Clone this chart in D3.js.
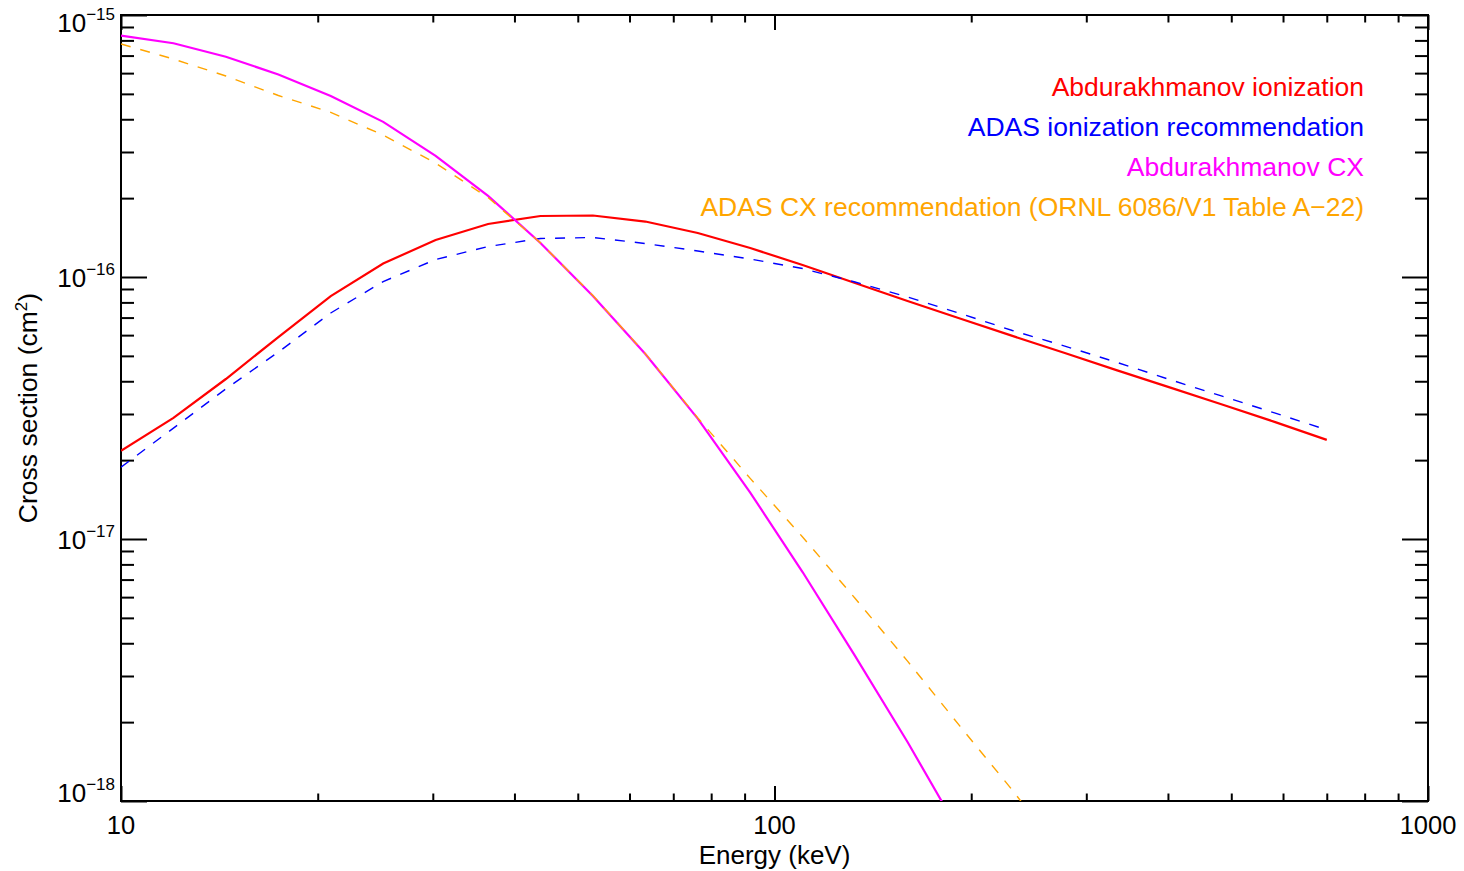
<!DOCTYPE html>
<html>
<head>
<meta charset="utf-8">
<script src="https://cdn.jsdelivr.net/npm/d3@7"></script>
<style>
  body { margin: 0; background: #fff; }
  svg { display: block; }
  text { font-family: "Liberation Sans", Arial, Helvetica, sans-serif; }
</style>
</head>
<body>
<svg id="chart" width="1464" height="871"></svg>
<script>
// energies in keV (shared grid of all four curves)
const energy = [10, 12.03, 14.47, 17.41, 20.94, 25.19, 30.30, 36.45, 43.84, 52.74, 63.44, 76.31,
    91.80, 110.4, 132.8, 159.8, 192.2, 231.2, 278.1, 334.5, 402.4, 484.1, 582.3, 700];

// cross sections in cm^2
const abdIon = [2.17e-17, 2.90e-17, 4.08e-17, 5.90e-17, 8.46e-17, 1.126e-16, 1.384e-16, 1.593e-16,
    1.709e-16, 1.717e-16, 1.628e-16, 1.472e-16, 1.290e-16, 1.111e-16, 9.49e-17, 8.10e-17,
    6.94e-17, 5.96e-17, 5.13e-17, 4.40e-17, 3.79e-17, 3.26e-17, 2.80e-17, 2.39e-17];
const adasIon = [1.88e-17, 2.65e-17, 3.74e-17, 5.17e-17, 7.29e-17, 9.61e-17, 1.166e-16, 1.307e-16,
    1.403e-16, 1.415e-16, 1.342e-16, 1.257e-16, 1.171e-16, 1.077e-16, 9.57e-17, 8.39e-17,
    7.26e-17, 6.25e-17, 5.45e-17, 4.72e-17, 4.06e-17, 3.51e-17, 3.03e-17, 2.61e-17];
const abdCx = [8.34e-16, 7.80e-16, 6.93e-16, 5.93e-16, 4.91e-16, 3.91e-16, 2.90e-16, 2.04e-16,
    1.349e-16, 8.46e-17, 5.08e-17, 2.88e-17, 1.504e-17, 7.48e-18, 3.58e-18, 1.68e-18,
    7.55e-19, 3.1e-19];
const adasCx = [7.75e-16, 6.79e-16, 5.85e-16, 4.93e-16, 4.25e-16, 3.48e-16, 2.72e-16, 2.01e-16,
    1.35e-16, 8.5e-17, 5.1e-17, 2.9e-17, 1.704e-17, 1.018e-17, 5.94e-18, 3.42e-18,
    1.93e-18, 1.10e-18, 6.06e-19];

const xTicks = [10, 100, 1000];
const yTicks = [1e-15, 1e-16, 1e-17, 1e-18];
const yExp = ["\u221215", "\u221216", "\u221217", "\u221218"];

const series = [
    { name: "Abdurakhmanov ionization", values: abdIon, color: "#ff0000", dash: null, width: 2.2 },
    { name: "ADAS ionization recommendation", values: adasIon, color: "#0000ff", dash: "10,10", width: 1.4 },
    { name: "Abdurakhmanov CX", values: abdCx, color: "#ff00ff", dash: null, width: 2.2 },
    { name: "ADAS CX recommendation (ORNL 6086/V1 Table A\u221222)", values: adasCx, color: "#ffa500", dash: "10,10", width: 1.4 }
];

const svg = d3.select("#chart");
const pLeft = 121, pRight = 1428, pTop = 15, pBottom = 801;

const x = d3.scaleLog().domain([10, 1000]).range([pLeft, pRight]);
const y = d3.scaleLog().domain([1e-18, 1e-15]).range([pBottom, pTop]);

// minor tick values
const xMinor = [];
[10, 100].forEach(d => { for (let k = 2; k < 10; k++) xMinor.push(d * k); });
const yMinor = [];
[1e-18, 1e-17, 1e-16].forEach(d => { for (let k = 2; k < 10; k++) yMinor.push(d * k); });

function tickAxis(axisFn, scale, values, size, pos) {
    const g = svg.append("g")
        .attr("transform", pos)
        .call(axisFn(scale).tickValues(values).tickSize(-size).tickFormat(""));
    g.select(".domain").remove();
    g.selectAll(".tick line").attr("stroke", "#000").attr("stroke-width", 2);
}

tickAxis(d3.axisBottom, x, xTicks, 15, `translate(0,${pBottom})`);
tickAxis(d3.axisBottom, x, xMinor, 7.5, `translate(0,${pBottom})`);
tickAxis(d3.axisTop, x, xTicks, 15, `translate(0,${pTop})`);
tickAxis(d3.axisTop, x, xMinor, 7.5, `translate(0,${pTop})`);
tickAxis(d3.axisLeft, y, yTicks, 26, `translate(${pLeft},0)`);
tickAxis(d3.axisLeft, y, yMinor, 13, `translate(${pLeft},0)`);
tickAxis(d3.axisRight, y, yTicks, 26, `translate(${pRight},0)`);
tickAxis(d3.axisRight, y, yMinor, 13, `translate(${pRight},0)`);

svg.append("rect")
    .attr("x", pLeft).attr("y", pTop)
    .attr("width", pRight - pLeft).attr("height", pBottom - pTop)
    .attr("fill", "none").attr("stroke", "#000").attr("stroke-width", 2);

// x tick labels
svg.selectAll(".xlab")
    .data(xTicks)
    .enter().append("text")
    .attr("x", d => x(d))
    .attr("y", 834)
    .attr("text-anchor", "middle")
    .attr("font-size", 25.5)
    .text(d => d);

// y tick labels with superscript exponents, kept inside the frame height
const ylab = svg.selectAll(".ylab")
    .data(yTicks)
    .enter().append("text")
    .attr("x", 115)
    .attr("y", d => Math.min(Math.max(y(d) + 10, 32), 802))
    .attr("text-anchor", "end")
    .attr("font-size", 26);
ylab.append("tspan").text("10");
ylab.append("tspan").attr("font-size", 17).attr("dy", -12).text((d, i) => yExp[i]);

// axis titles
svg.append("text")
    .attr("x", (pLeft + pRight) / 2).attr("y", 864)
    .attr("text-anchor", "middle")
    .attr("font-size", 26)
    .text("Energy (keV)");

const yt = svg.append("text")
    .attr("transform", "translate(37,408) rotate(-90)")
    .attr("text-anchor", "middle")
    .attr("font-size", 26.5);
yt.append("tspan").text("Cross section (cm");
yt.append("tspan").attr("font-size", 17).attr("dy", -10).text("2");
yt.append("tspan").attr("dy", 10).text(")");

// curves
svg.append("clipPath").attr("id", "plotclip")
    .append("rect")
    .attr("x", pLeft).attr("y", pTop)
    .attr("width", pRight - pLeft).attr("height", pBottom - pTop);

const line = d3.line()
    .x((d, i) => x(energy[i]))
    .y(d => y(d));

svg.append("g").attr("clip-path", "url(#plotclip)")
    .selectAll("path")
    .data(series)
    .enter().append("path")
    .attr("d", d => line(d.values))
    .attr("fill", "none")
    .attr("stroke", d => d.color)
    .attr("stroke-width", d => d.width)
    .attr("stroke-dasharray", d => d.dash);

// legend (right aligned text)
svg.selectAll(".leg")
    .data(series)
    .enter().append("text")
    .attr("x", 1364)
    .attr("y", (d, i) => 96 + i * 40)
    .attr("text-anchor", "end")
    .attr("font-size", 26.5)
    .attr("fill", d => d.color)
    .text(d => d.name);
</script>
</body>
</html>
